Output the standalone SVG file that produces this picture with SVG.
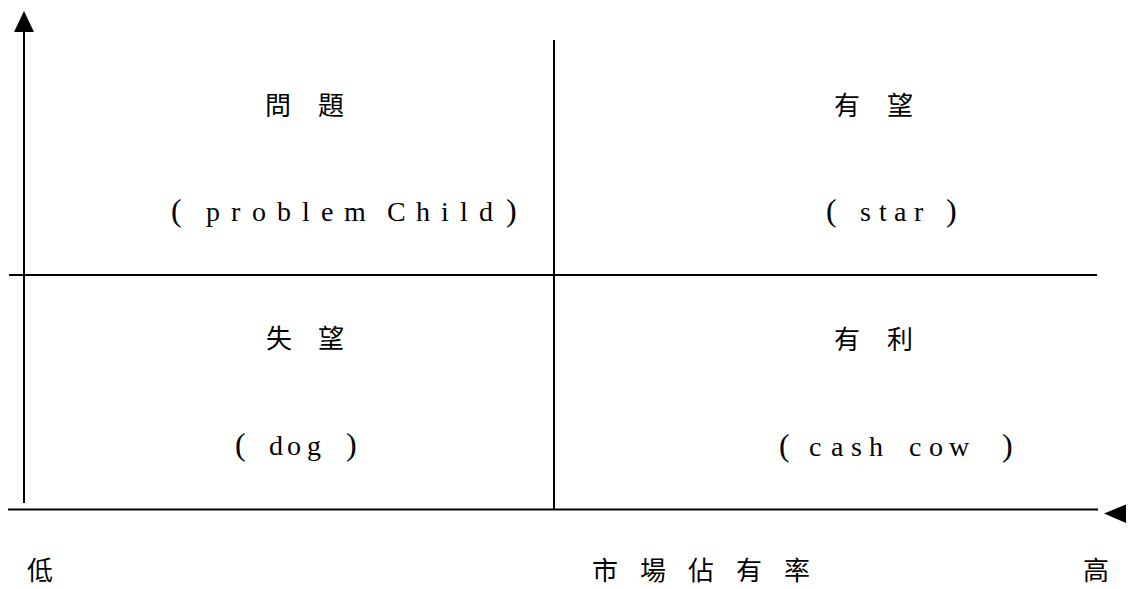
<svg xmlns="http://www.w3.org/2000/svg" width="1128" height="589" viewBox="0 0 1128 589">
<style>
.ln{stroke:#000;stroke-width:2;fill:none}
.ah{fill:#000;stroke:none}
.cj{font-family:"Noto Sans CJK TC","Noto Sans CJK SC",sans-serif;font-size:26px;fill:#000}
.en{font-family:"Liberation Serif","Times New Roman",serif;font-size:28px;fill:#000}
.pr{font-size:32px}
</style>
<rect width="1128" height="589" fill="#fff"/>
<g id="connectors">
<line class="ln" x1="24" y1="31" x2="24" y2="503"/>
<polygon class="ah" points="24,11 14,32 34,32"/>
<line class="ln" x1="554" y1="40" x2="554" y2="509"/>
<line class="ln" x1="9" y1="275" x2="1097" y2="275"/>
<line class="ln" x1="8" y1="509.5" x2="1098" y2="509.5"/>
<polygon class="ah" points="1104,513.5 1126,504.5 1126,523"/>
</g>
<g id="problem-child">
<text class="cj" y="115" x="265 318">問題</text>
<text class="en" y="221"><tspan class="pr" x="171">(</tspan><tspan x="206 231 252 277 302 321 344 370 387 416 441 460 479">problem Child</tspan><tspan class="pr" x="506">)</tspan></text>
</g>
<g id="star">
<text class="cj" y="115" x="834 887">有望</text>
<text class="en" y="221"><tspan class="pr" x="826">(</tspan><tspan x="860 879 894 914">star</tspan><tspan class="pr" x="946">)</tspan></text>
</g>
<g id="dog">
<text class="cj" y="348" x="266 318">失望</text>
<text class="en" y="455"><tspan class="pr" x="235">(</tspan><tspan x="269 287 307">dog</tspan><tspan class="pr" x="346">)</tspan></text>
</g>
<g id="cash-cow">
<text class="cj" y="349" x="834 887">有利</text>
<text class="en" y="456"><tspan class="pr" x="779">(</tspan><tspan x="809 831 851 869 895 909 929 949">cash cow</tspan><tspan class="pr" x="1002">)</tspan></text>
</g>
<g id="axis-labels">
<text class="cj" y="580" x="27">低</text>
<text class="cj" y="580" x="592 640 688 736 784">市場佔有率</text>
<text class="cj" y="580" x="1083">高</text>
</g>
</svg>
